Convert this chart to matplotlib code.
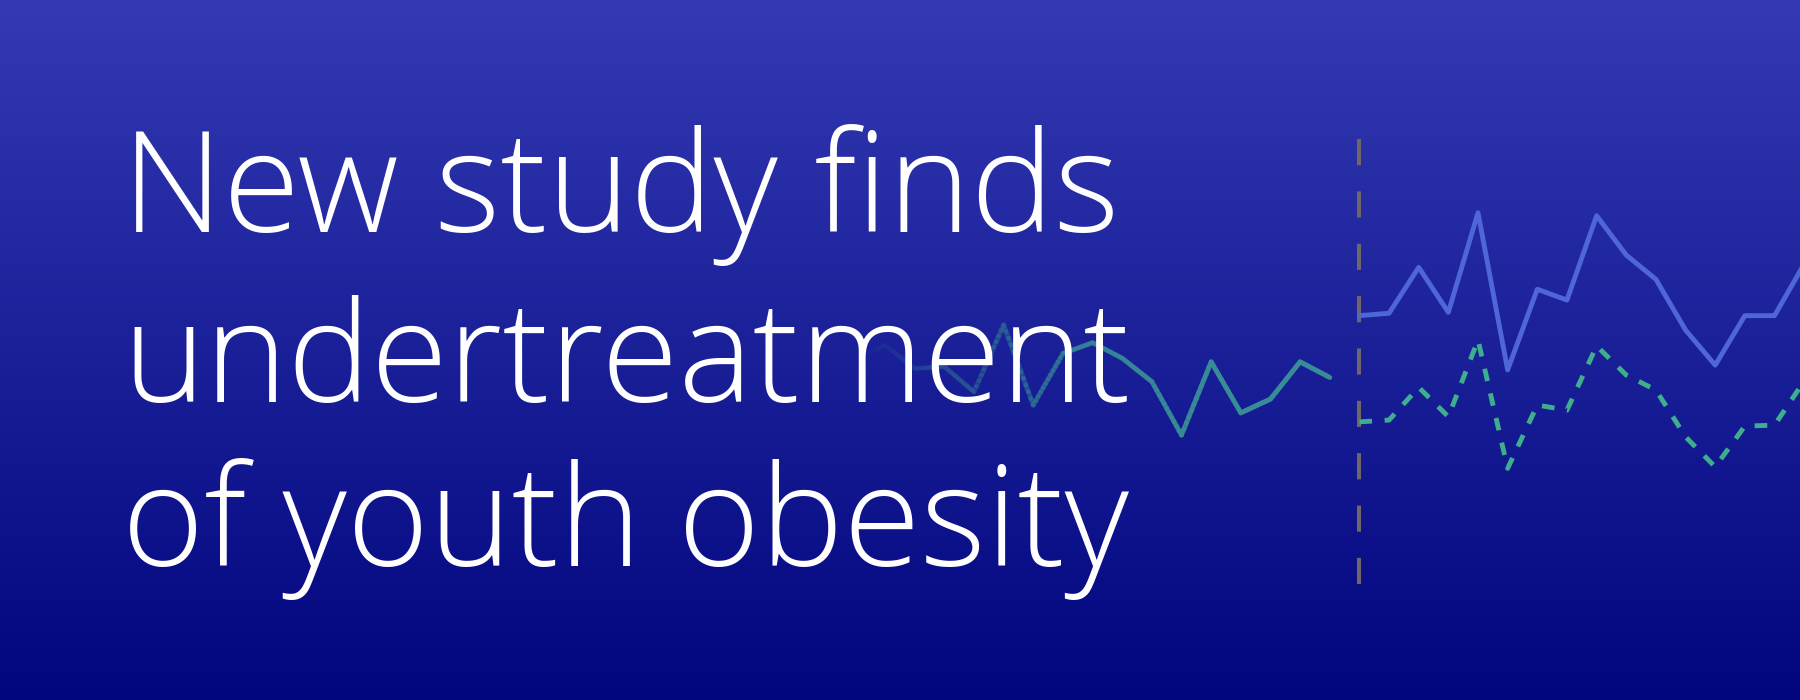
import numpy as np
import matplotlib.pyplot as plt
from matplotlib import font_manager
from matplotlib.collections import LineCollection
from matplotlib.colors import LinearSegmentedColormap, to_rgb

# title text
title_lines = ["New study finds", "undertreatment", "of youth obesity"]

# left (faded) series, steps -1..15
left_steps = np.arange(-1, 16)
left_vals = [40, 45, 37.2, 37.8, 29.4, 51.7, 25, 42.2, 45.8, 40.6, 32.8, 15, 39.4, 22.4, 27, 39.4, 34.2]

# right series, steps 16..31
right_steps = np.arange(16, 32)
blue_vals = [54.8, 55.6, 70.9, 55.9, 89.1, 36.7, 63.6, 60, 88.1, 75, 66.9, 50, 38.3, 54.8, 54.8, 72]
green_vals = [19.4, 20, 30.9, 21.1, 46.7, 3.9, 25, 23.3, 44.7, 35, 30, 14.4, 4.4, 18, 18.3, 33]
split_step = 16

bg_top = "#343ab3"
bg_bottom = "#01067e"
blue = "#4f66d8"
green = "#3fae8e"
teal = "#388c97"
grey = "#6f6767"

# Open Sans Light (not the condensed one)
font = font_manager.FontProperties(family="Open Sans", weight=300)
for f in font_manager.fontManager.ttflist:
    if f.fname.endswith("OpenSans-Light.ttf"):
        font = font_manager.FontProperties(fname=f.fname)
        break
font.set_size(101)

fig = plt.figure(figsize=(18, 7), dpi=100)
ax = fig.add_axes([0, 0, 1, 1])
ax.set_xlim(-29.85, 30.86)
ax.set_ylim(-73.3, 160)
ax.axis("off")

# background gradient
cmap = LinearSegmentedColormap.from_list("bg", [bg_bottom, bg_top])
grad = np.linspace(0, 1, 256).reshape(-1, 1)
ax.imshow(grad, cmap=cmap, aspect="auto", origin="lower",
          extent=[-29.85, 30.86, -73.3, 160], zorder=0)

# faded left line, alpha ramps up from the left
xs, ys = [], []
for i in range(len(left_steps) - 1):
    t = np.linspace(0, 1, 12, endpoint=False)
    xs.extend(left_steps[i] + t * (left_steps[i + 1] - left_steps[i]))
    ys.extend(left_vals[i] + t * (left_vals[i + 1] - left_vals[i]))
xs.append(left_steps[-1])
ys.append(left_vals[-1])
xs, ys = np.array(xs), np.array(ys)
pts = np.column_stack([xs, ys]).reshape(-1, 1, 2)
segs = np.concatenate([pts[:-1], pts[1:]], axis=1)
mid = (xs[:-1] + xs[1:]) / 2
alpha = np.clip((mid - left_steps[0]) / 12.0, 0, 1) ** 1.2
rgb = to_rgb(teal)
cols = [(rgb[0], rgb[1], rgb[2], a) for a in alpha]
lc = LineCollection(segs, colors=cols, linewidths=3.5, capstyle="round", zorder=2)
ax.add_collection(lc)

# right lines
ax.plot(right_steps, blue_vals, color=blue, lw=3.5, zorder=3)
ax.plot(right_steps, green_vals, color=green, lw=3.5, zorder=3,
        linestyle=(0, (2.6, 2.6)))

# divider
ax.plot([split_step, split_step], [113.7, -34.5], color=grey, lw=2.9,
        linestyle=(0, (6.5, 6.5)), zorder=2)

# title
ys_txt = [0.6686, 0.4257, 0.1914]
for line, yy in zip(title_lines, ys_txt):
    fig.text(0.068, yy, line, color="white", fontproperties=font,
             va="baseline", ha="left", zorder=5)

fig.savefig("out.png", dpi=100)
